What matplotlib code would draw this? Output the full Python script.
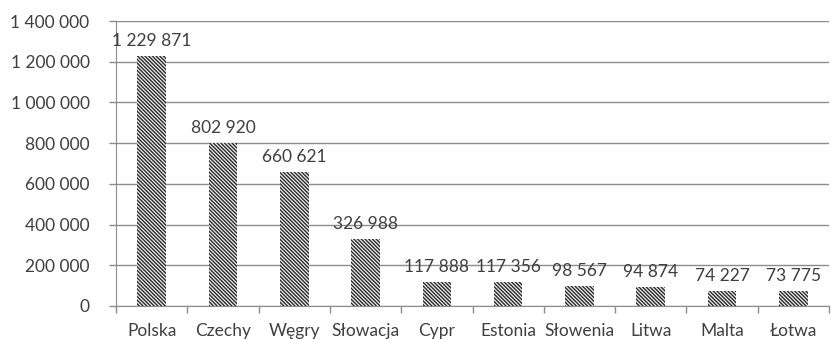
import matplotlib
matplotlib.use("Agg")
import matplotlib.pyplot as plt
from matplotlib.ticker import FixedLocator, FuncFormatter

# dane
kraje = ["Polska", "Czechy", "Węgry", "Słowacja", "Cypr",
         "Estonia", "Słowenia", "Litwa", "Malta", "Łotwa"]
wartosci = [1229871, 802920, 660621, 326988, 117888,
            117356, 98567, 94874, 74227, 73775]
y_ticks = [0, 200000, 400000, 600000, 800000, 1000000, 1200000, 1400000]

def fmt(v):
    return "{:,}".format(int(v)).replace(",", " ")

plt.rcParams['font.family'] = ['Lato', 'DejaVu Sans']
plt.rcParams['hatch.linewidth'] = 1.0
tekst = '#3f3f3f'
siatka = '#8c8c8c'
fs = 12.5

fig = plt.figure(figsize=(8.31, 3.40), dpi=100)
ax = fig.add_axes([116 / 831, 34 / 340, 713 / 831, 285 / 340])

x = list(range(len(kraje)))
ax.bar(x, wartosci, width=0.4, color='#f0f0f0', edgecolor='#2a2a2a',
       linewidth=0, hatch='\\' * 9, zorder=3)

for xi, v in zip(x, wartosci):
    ax.annotate(fmt(v), (xi, v), xytext=(0, 5), textcoords='offset points',
                ha='center', va='bottom', fontsize=fs, color=tekst, zorder=4)

ax.set_xlim(-0.5, len(kraje) - 0.5)
ax.set_ylim(0, 1400000)
ax.set_yticks(y_ticks)
ax.yaxis.set_major_formatter(FuncFormatter(lambda v, p: fmt(v)))
ax.grid(axis='y', color=siatka, linewidth=1.0, zorder=0)

ax.set_xticks(x)
ax.set_xticklabels(kraje)
ax.xaxis.set_minor_locator(FixedLocator([i - 0.5 for i in range(len(kraje) + 1)]))
ax.tick_params(axis='x', which='major', length=0, pad=12, labelsize=fs, labelcolor=tekst)
ax.tick_params(axis='x', which='minor', length=5, color=siatka, width=1)
ax.tick_params(axis='y', length=5, color=siatka, width=1, pad=14,
               labelsize=fs, labelcolor=tekst)

for s in ['top', 'right']:
    ax.spines[s].set_visible(False)
ax.spines['left'].set_color(siatka)
ax.spines['bottom'].set_color(siatka)

fig.savefig("out.png", dpi=100)
